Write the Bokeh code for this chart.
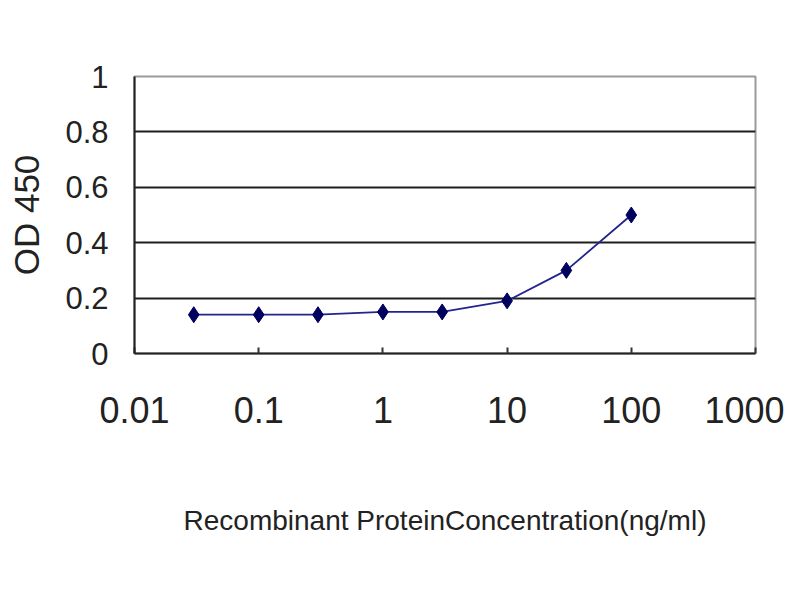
from bokeh.plotting import figure
from bokeh.models import Range1d, FixedTicker, CustomJSTickFormatter, ColumnDataSource
from bokeh.embed import file_html
from bokeh.resources import INLINE

# data
concentration = [0.03, 0.1, 0.3, 1, 3, 10, 30, 100]
od450 = [0.14, 0.14, 0.14, 0.15, 0.15, 0.19, 0.30, 0.50]
x_ticks = [0.01, 0.1, 1, 10, 100, 1000]
y_ticks = [0, 0.2, 0.4, 0.6, 0.8, 1]
grid_ticks = [0.2, 0.4, 0.6, 0.8]

FONT = "Liberation Sans"

p = figure(width=784, height=584, x_axis_type="log",
           x_range=Range1d(0.01, 1000), y_range=Range1d(0, 1),
           output_backend="svg", toolbar_location=None,
           min_border_left=134, min_border_right=29,
           min_border_top=76, min_border_bottom=231)

p.background_fill_color = "white"
p.border_fill_color = "white"
p.outline_line_color = "#9a9a9a"
p.outline_line_width = 2

src = ColumnDataSource(dict(x=concentration, y=od450))
p.line("x", "y", source=src, line_color="#24248f", line_width=1.8)
p.scatter("x", "y", source=src, marker="diamond", size=16,
          fill_color="#00005e", line_color="#00005e")

fmt = CustomJSTickFormatter(code="return String(parseFloat(tick.toPrecision(6)));")

# x axis
xa = p.xaxis[0]
xa.ticker = FixedTicker(ticks=x_ticks, minor_ticks=[])
xa.formatter = fmt
xa.major_tick_in = 6
xa.major_tick_out = 0
xa.major_tick_line_color = "#333333"
xa.major_tick_line_width = 2
xa.minor_tick_line_color = None
xa.axis_line_color = "#222222"
xa.axis_line_width = 2
xa.major_label_text_font = FONT
xa.major_label_text_font_size = "36px"
xa.major_label_text_color = "#222222"
xa.major_label_standoff = 43
xa.axis_label = "Recombinant ProteinConcentration(ng/ml)"
xa.axis_label_text_font = FONT
xa.axis_label_text_font_size = "28px"
xa.axis_label_text_font_style = "normal"
xa.axis_label_text_color = "#222222"
xa.axis_label_standoff = 79

# y axis
ya = p.yaxis[0]
ya.ticker = FixedTicker(ticks=y_ticks)
ya.formatter = fmt
ya.major_tick_in = 0
ya.major_tick_out = 0
ya.minor_tick_line_color = None
ya.axis_line_color = "#222222"
ya.axis_line_width = 2
ya.major_label_text_font = FONT
ya.major_label_text_font_size = "31px"
ya.major_label_text_color = "#222222"
ya.major_label_standoff = 26
ya.axis_label = "OD 450"
ya.axis_label_text_font = FONT
ya.axis_label_text_font_size = "35px"
ya.axis_label_text_font_style = "normal"
ya.axis_label_text_color = "#222222"
ya.axis_label_standoff = 16

p.xgrid.grid_line_color = None
p.ygrid.ticker = FixedTicker(ticks=grid_ticks)
p.ygrid.grid_line_color = "#1e1e1e"
p.ygrid.grid_line_width = 2

open("out.html", "w").write(file_html(p, INLINE))
